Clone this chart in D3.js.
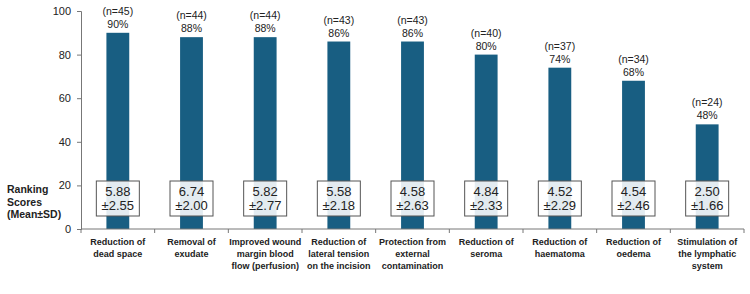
<!DOCTYPE html>
<html>
<head>
<meta charset="utf-8">
<script src="https://cdn.jsdelivr.net/npm/d3@7"></script>
<style>
  body { margin: 0; background: #fff; }
  text { font-family: "Liberation Sans", Arial, sans-serif; }
</style>
</head>
<body>
<div id="chart"></div>
<script>
// Chart data
const categories = [
    ["Reduction of", "dead space"],
    ["Removal of", "exudate"],
    ["Improved wound", "margin blood", "flow (perfusion)"],
    ["Reduction of", "lateral tension", "on the incision"],
    ["Protection from", "external", "contamination"],
    ["Reduction of", "seroma"],
    ["Reduction of", "haematoma"],
    ["Reduction of", "oedema"],
    ["Stimulation of", "the lymphatic", "system"]
];
const percents = [90, 88, 88, 86, 86, 80, 74, 68, 48];
const counts = [45, 44, 44, 43, 43, 40, 37, 34, 24];
const means = ["5.88", "6.74", "5.82", "5.58", "4.58", "4.84", "4.52", "4.54", "2.50"];
const sds = ["2.55", "2.00", "2.77", "2.18", "2.63", "2.33", "2.29", "2.46", "1.66"];
const yTicks = [0, 20, 40, 60, 80, 100];

const width = 750;
const height = 294;
const margin = { left: 81, right: 6, top: 11, bottom: 65 };

const svg = d3.select("#chart").append("svg")
    .attr("width", width)
    .attr("height", height);

const x = d3.scaleBand()
    .domain(d3.range(categories.length))
    .range([margin.left, width - margin.right])
    .paddingInner(0.69)
    .paddingOuter(0.345);

const xb = d3.scaleBand()
    .domain(d3.range(categories.length))
    .range([margin.left, width - margin.right]);

const y = d3.scaleLinear()
    .domain([0, 100])
    .range([height - margin.bottom, margin.top]);

// Bars
svg.selectAll("rect.bar")
    .data(percents)
    .enter()
    .append("rect")
    .attr("class", "bar")
    .attr("x", (d, i) => x(i))
    .attr("y", d => y(d))
    .attr("width", x.bandwidth())
    .attr("height", d => y(0) - y(d))
    .attr("fill", "#185e82");

// Y axis
const yAxis = svg.append("g")
    .attr("transform", `translate(${margin.left},0)`)
    .call(d3.axisLeft(y).tickValues(yTicks).tickSize(4).tickPadding(6));
yAxis.selectAll("text").attr("font-size", 11).attr("fill", "#222").style("font-family", "Liberation Sans, Arial, sans-serif");
yAxis.selectAll("line, path").attr("stroke", "#777");

// X axis line with ticks at band edges
svg.append("line")
    .attr("x1", margin.left).attr("x2", width - margin.right)
    .attr("y1", y(0)).attr("y2", y(0))
    .attr("stroke", "#777");
svg.selectAll("line.xtick")
    .data(d3.range(categories.length + 1))
    .enter()
    .append("line")
    .attr("class", "xtick")
    .attr("x1", i => i < categories.length ? xb(i) : xb(i - 1) + xb.bandwidth())
    .attr("x2", i => i < categories.length ? xb(i) : xb(i - 1) + xb.bandwidth())
    .attr("y1", y(0)).attr("y2", y(0) + 4)
    .attr("stroke", "#777");

// Category labels
const xl = svg.selectAll("text.cat")
    .data(categories)
    .enter()
    .append("text")
    .attr("class", "cat")
    .attr("text-anchor", "middle")
    .attr("font-size", 9)
    .attr("font-weight", "bold")
    .attr("fill", "#222");
xl.selectAll("tspan")
    .data((d, i) => d.map(s => ({ s, i })))
    .enter()
    .append("tspan")
    .attr("x", d => xb(d.i) + xb.bandwidth() / 2)
    .attr("y", (d, j) => y(0) + 15.5 + j * 12)
    .text(d => d.s);

// n and % labels
svg.selectAll("text.n")
    .data(counts)
    .enter()
    .append("text")
    .attr("class", "n")
    .attr("x", (d, i) => xb(i) + xb.bandwidth() / 2)
    .attr("y", (d, i) => y(percents[i]) - 18)
    .attr("text-anchor", "middle")
    .attr("font-size", 10.5)
    .attr("fill", "#222")
    .text(d => `(n=${d})`);
svg.selectAll("text.pct")
    .data(percents)
    .enter()
    .append("text")
    .attr("class", "pct")
    .attr("x", (d, i) => xb(i) + xb.bandwidth() / 2)
    .attr("y", d => y(d) - 5)
    .attr("text-anchor", "middle")
    .attr("font-size", 10.5)
    .attr("fill", "#222")
    .text(d => `${d}%`);

// Mean ± SD boxes
const boxW = 43, boxH = 35;
const boxTop = y(0) - 48;
const boxes = svg.selectAll("g.box")
    .data(means)
    .enter()
    .append("g")
    .attr("class", "box")
    .attr("transform", (d, i) => `translate(${xb(i) + xb.bandwidth() / 2},${boxTop})`);
boxes.append("rect")
    .attr("x", -boxW / 2)
    .attr("width", boxW)
    .attr("height", boxH)
    .attr("fill", "#fff")
    .attr("fill-opacity", 0.88)
    .attr("stroke", "#555")
    .attr("stroke-width", 1);
boxes.append("text")
    .attr("text-anchor", "middle")
    .attr("y", 15)
    .attr("font-size", 13)
    .attr("fill", "#222")
    .text(d => d);
boxes.append("text")
    .attr("text-anchor", "middle")
    .attr("y", 29)
    .attr("font-size", 13)
    .attr("fill", "#222")
    .text((d, i) => `±${sds[i]}`);

// Y axis title
const title = svg.append("text")
    .attr("font-size", 10.5)
    .attr("font-weight", "bold")
    .attr("fill", "#222");
["Ranking", "Scores", "(Mean±SD)"].forEach((s, j) => {
    title.append("tspan").attr("x", 7).attr("y", 193 + j * 12.5).text(s);
});
</script>
</body>
</html>
